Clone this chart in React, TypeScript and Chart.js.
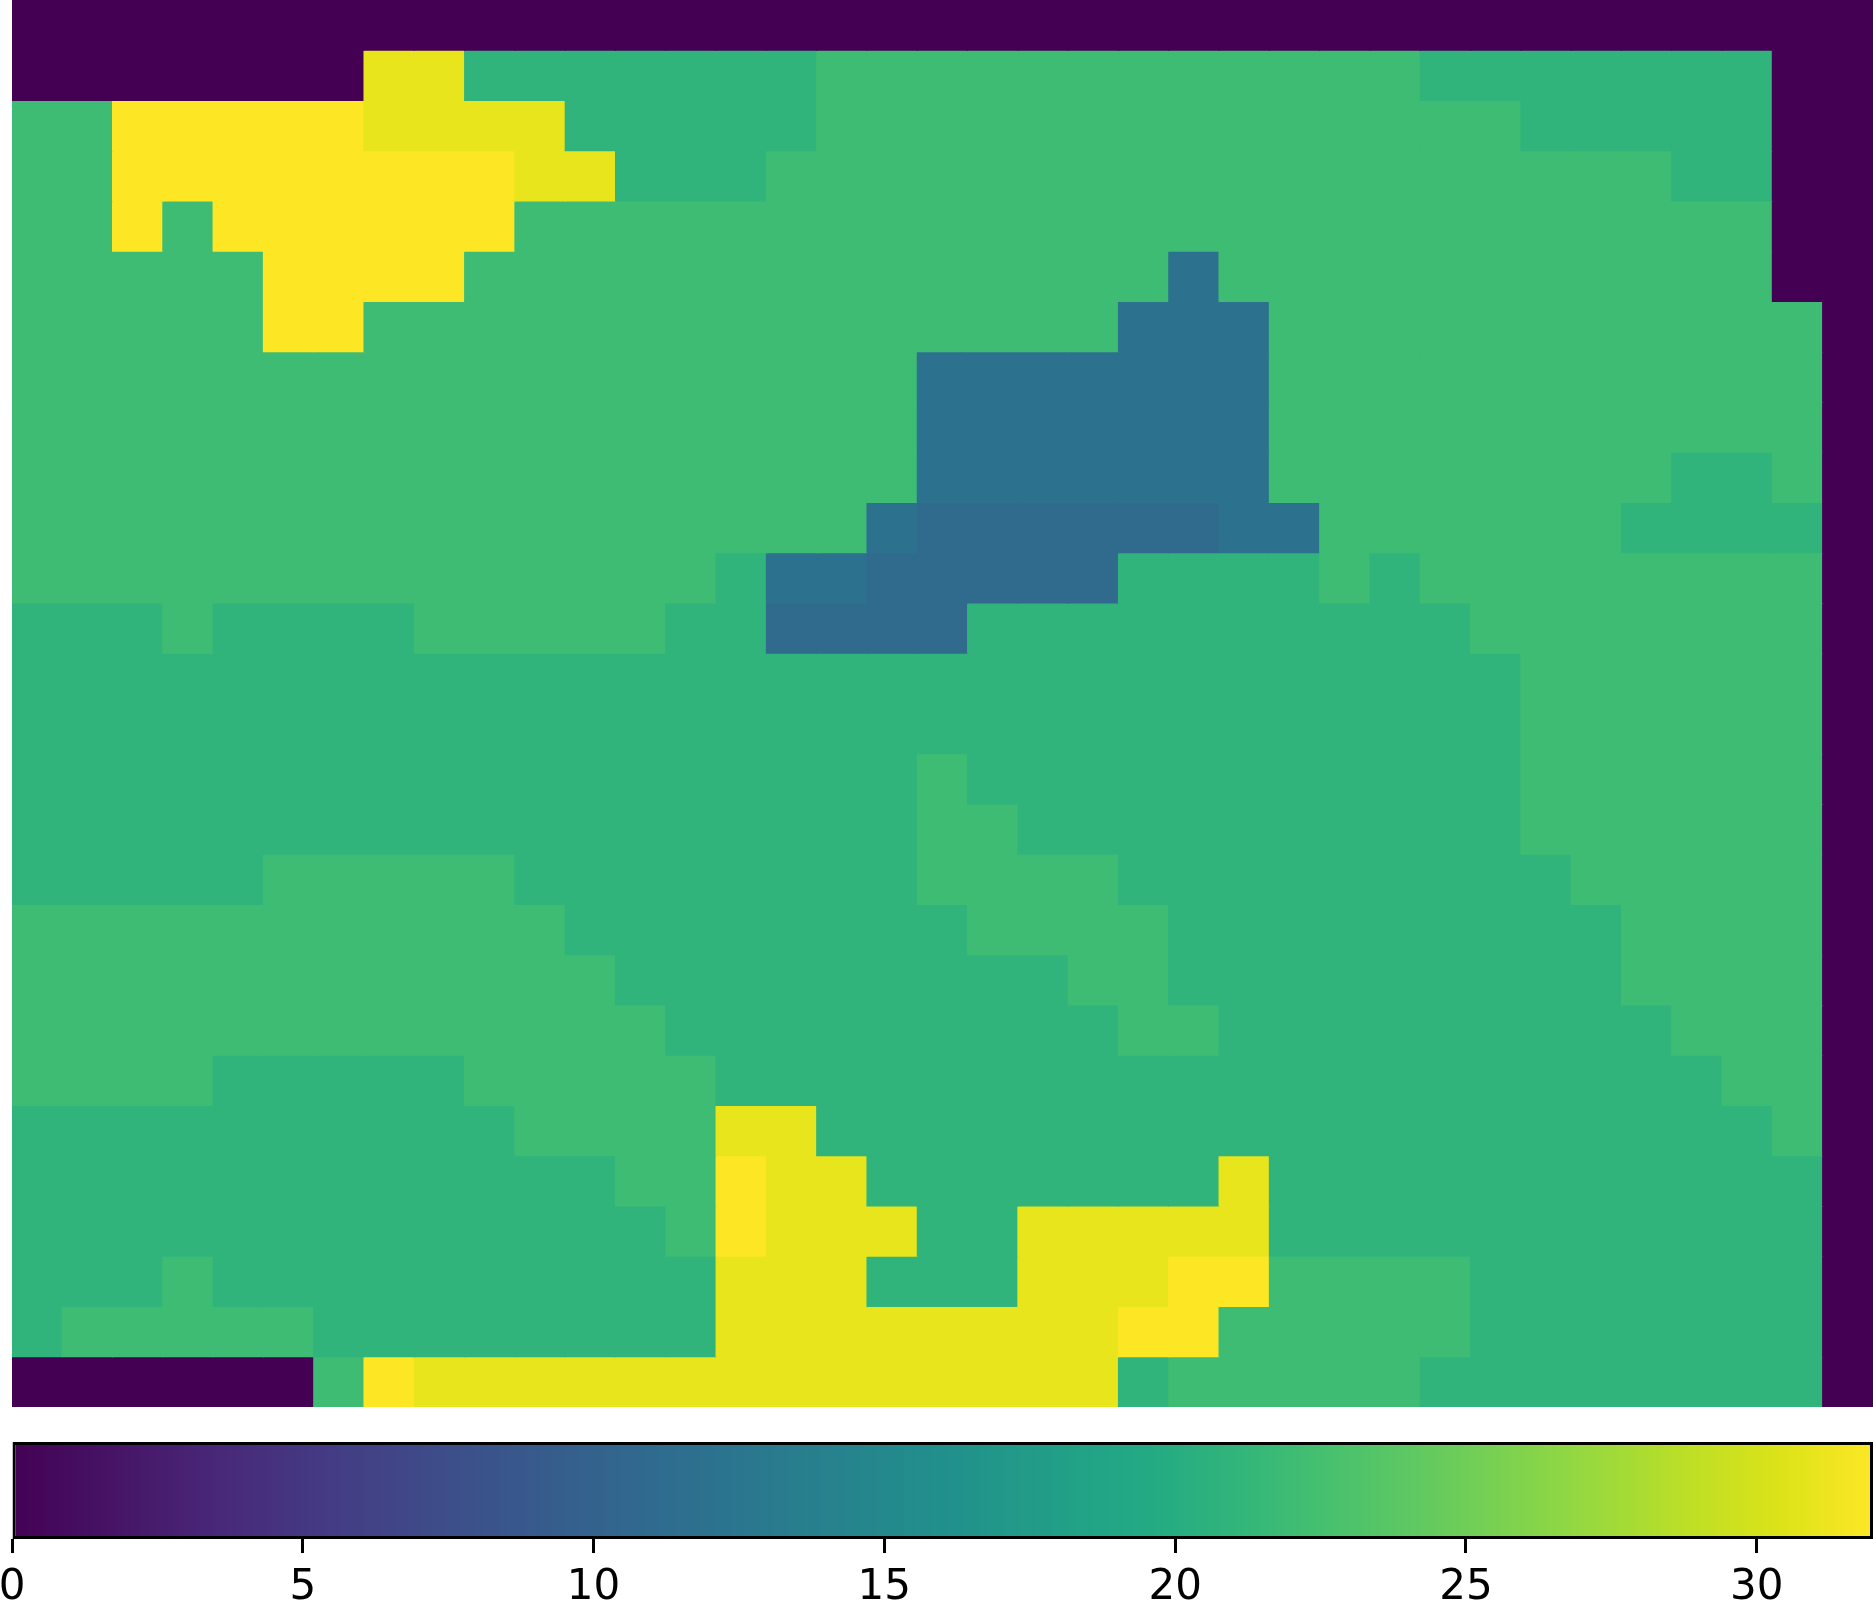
import React, { useEffect, useRef } from "react";
import { Chart, registerables } from "chart.js";

Chart.register(...registerables);

// ---- data -------------------------------------------------------------
const columnLabels: string[] = [
  "0", "1", "2", "3", "4", "5", "6", "7", "8", "9",
  "10", "11", "12", "13", "14", "15", "16", "17", "18", "19",
  "20", "21", "22", "23", "24", "25", "26", "27", "28", "29",
  "30", "31", "32", "33", "34", "35", "36",
];

// one array per row, top row first
const gridRows: number[][] = [
  [0,0,0,0,0,0,0,0,0,0, 0,0,0,0,0,0,0,0,0,0, 0,0,0,0,0,0,0,0,0,0, 0,0,0,0,0,0,0],
  [0,0,0,0,0,0,0,31,31,21, 21,21,21,21,21,21,22,22,22,22, 22,22,22,22,22,22,22,22,21,21, 21,21,21,21,21,0,0],
  [22,22,32,32,32,32,32,31,31,31, 31,21,21,21,21,21,22,22,22,22, 22,22,22,22,22,22,22,22,22,22, 21,21,21,21,21,0,0],
  [22,22,32,32,32,32,32,32,32,32, 31,31,21,21,21,22,22,22,22,22, 22,22,22,22,22,22,22,22,22,22, 22,22,22,21,21,0,0],
  [22,22,32,22,32,32,32,32,32,32, 22,22,22,22,22,22,22,22,22,22, 22,22,22,22,22,22,22,22,22,22, 22,22,22,22,22,0,0],
  [22,22,22,22,22,32,32,32,32,22, 22,22,22,22,22,22,22,22,22,22, 22,22,22,12,22,22,22,22,22,22, 22,22,22,22,22,0,0],
  [22,22,22,22,22,32,32,22,22,22, 22,22,22,22,22,22,22,22,22,22, 22,22,12,12,12,22,22,22,22,22, 22,22,22,22,22,22,0],
  [22,22,22,22,22,22,22,22,22,22, 22,22,22,22,22,22,22,22,12,12, 12,12,12,12,12,22,22,22,22,22, 22,22,22,22,22,22,0],
  [22,22,22,22,22,22,22,22,22,22, 22,22,22,22,22,22,22,22,12,12, 12,12,12,12,12,22,22,22,22,22, 22,22,22,22,22,22,0],
  [22,22,22,22,22,22,22,22,22,22, 22,22,22,22,22,22,22,22,12,12, 12,12,12,12,12,22,22,22,22,22, 22,22,22,21,21,22,0],
  [22,22,22,22,22,22,22,22,22,22, 22,22,22,22,22,22,22,12,11,11, 11,11,11,11,12,12,22,22,22,22, 22,22,21,21,21,21,0],
  [22,22,22,22,22,22,22,22,22,22, 22,22,22,22,21,12,12,11,11,11, 11,11,21,21,21,21,22,21,22,22, 22,22,22,22,22,22,0],
  [21,21,21,22,21,21,21,21,22,22, 22,22,22,21,21,11,11,11,11,21, 21,21,21,21,21,21,21,21,21,22, 22,22,22,22,22,22,0],
  [21,21,21,21,21,21,21,21,21,21, 21,21,21,21,21,21,21,21,21,21, 21,21,21,21,21,21,21,21,21,21, 22,22,22,22,22,22,0],
  [21,21,21,21,21,21,21,21,21,21, 21,21,21,21,21,21,21,21,21,21, 21,21,21,21,21,21,21,21,21,21, 22,22,22,22,22,22,0],
  [21,21,21,21,21,21,21,21,21,21, 21,21,21,21,21,21,21,21,22,21, 21,21,21,21,21,21,21,21,21,21, 22,22,22,22,22,22,0],
  [21,21,21,21,21,21,21,21,21,21, 21,21,21,21,21,21,21,21,22,22, 21,21,21,21,21,21,21,21,21,21, 22,22,22,22,22,22,0],
  [21,21,21,21,21,22,22,22,22,22, 21,21,21,21,21,21,21,21,22,22, 22,22,21,21,21,21,21,21,21,21, 21,22,22,22,22,22,0],
  [22,22,22,22,22,22,22,22,22,22, 22,21,21,21,21,21,21,21,21,22, 22,22,22,21,21,21,21,21,21,21, 21,21,22,22,22,22,0],
  [22,22,22,22,22,22,22,22,22,22, 22,22,21,21,21,21,21,21,21,21, 21,22,22,21,21,21,21,21,21,21, 21,21,22,22,22,22,0],
  [22,22,22,22,22,22,22,22,22,22, 22,22,22,21,21,21,21,21,21,21, 21,21,22,22,21,21,21,21,21,21, 21,21,21,22,22,22,0],
  [22,22,22,22,21,21,21,21,21,22, 22,22,22,22,21,21,21,21,21,21, 21,21,21,21,21,21,21,21,21,21, 21,21,21,21,22,22,0],
  [21,21,21,21,21,21,21,21,21,21, 22,22,22,22,31,31,21,21,21,21, 21,21,21,21,21,21,21,21,21,21, 21,21,21,21,21,22,0],
  [21,21,21,21,21,21,21,21,21,21, 21,21,22,22,32,31,31,21,21,21, 21,21,21,21,31,21,21,21,21,21, 21,21,21,21,21,21,0],
  [21,21,21,21,21,21,21,21,21,21, 21,21,21,22,32,31,31,31,21,21, 31,31,31,31,31,21,21,21,21,21, 21,21,21,21,21,21,0],
  [21,21,21,22,21,21,21,21,21,21, 21,21,21,21,31,31,31,21,21,21, 31,31,31,32,32,22,22,22,22,21, 21,21,21,21,21,21,0],
  [21,22,22,22,22,22,21,21,21,21, 21,21,21,21,31,31,31,31,31,31, 31,31,32,32,22,22,22,22,22,21, 21,21,21,21,21,21,0],
  [0,0,0,0,0,0,22,32,31,31, 31,31,31,31,31,31,31,31,31,31, 31,31,21,22,22,22,22,22,21,21, 21,21,21,21,21,21,0],
];

const colorMin = 0;
const colorMax = 32;
const colorbarTicks: number[] = [0, 5, 10, 15, 20, 25, 30];

// viridis colormap stops (position, colour)
const viridisPos: number[] = [0, 0.1, 0.125, 0.1667, 0.2, 0.25, 0.3, 0.3333, 0.375, 0.4, 0.5, 0.6, 0.625, 0.6667, 0.7, 0.75, 0.8, 0.8333, 0.875, 0.9, 0.95, 1];
const viridisHex: string[] = [
  "#440154", "#482475", "#472d7b", "#443a83", "#414487", "#3b528b", "#355f8d", "#31688e",
  "#2c728e", "#2a788e", "#21908c", "#22a884", "#27ad81", "#35b779", "#44bf70", "#5dc863",
  "#7ad151", "#8fd744", "#aadc32", "#bddf26", "#dce318", "#fde725",
];

function hexToRgb(h: string): number[] {
  return [parseInt(h.slice(1, 3), 16), parseInt(h.slice(3, 5), 16), parseInt(h.slice(5, 7), 16)];
}

function viridis(t: number): string {
  const x = Math.max(0, Math.min(1, t));
  for (let i = 0; i < viridisPos.length - 1; i++) {
    const a = viridisPos[i];
    const b = viridisPos[i + 1];
    if (x >= a && x <= b) {
      const f = b === a ? 0 : (x - a) / (b - a);
      const ca = hexToRgb(viridisHex[i]);
      const cb = hexToRgb(viridisHex[i + 1]);
      const c = ca.map((v, k) => Math.round(v + (cb[k] - v) * f));
      return `rgb(${c[0]},${c[1]},${c[2]})`;
    }
  }
  return viridisHex[viridisHex.length - 1];
}

const norm = (v: number) => (v - colorMin) / (colorMax - colorMin);

// ---- component --------------------------------------------------------
export default function App() {
  const heatRef = useRef<HTMLCanvasElement | null>(null);
  const barRef = useRef<HTMLCanvasElement | null>(null);

  useEffect(() => {
    if (!heatRef.current || !barRef.current) return;
    const nRows = gridRows.length;

    const heat = new Chart(heatRef.current, {
      type: "bar",
      data: {
        labels: columnLabels,
        datasets: gridRows.map((row, r) => ({
          label: `row ${r}`,
          data: row.map(() => [r, r + 1]),
          backgroundColor: row.map((v) => viridis(norm(v))),
          borderWidth: 0,
          barPercentage: 1,
          categoryPercentage: 1,
          inflateAmount: 0.6,
          grouped: false,
        })) as any,
      },
      options: {
        animation: false,
        responsive: false,
        maintainAspectRatio: false,
        devicePixelRatio: 1,
        layout: { padding: 0 },
        plugins: { legend: { display: false }, tooltip: { enabled: false } },
        scales: {
          x: { display: false },
          y: { display: false, min: 0, max: nRows, reverse: true },
        },
      } as any,
    });

    const cbar = new Chart(barRef.current, {
      type: "bar",
      data: {
        labels: ["colorbar"],
        datasets: [
          {
            label: "colorbar",
            data: [[colorMin, colorMax]] as any,
            backgroundColor: (c: any) => {
              const chart = c.chart;
              const area = chart.chartArea;
              if (!area) return "transparent";
              const xs = chart.scales.x;
              const g = chart.ctx.createLinearGradient(
                xs.getPixelForValue(colorMin), 0, xs.getPixelForValue(colorMax), 0
              );
              viridisPos.forEach((p, i) => g.addColorStop(p, viridisHex[i]));
              return g;
            },
            borderColor: "#000000",
            borderWidth: 3,
            borderSkipped: false,
            barPercentage: 1,
            categoryPercentage: 1,
            inflateAmount: 0,
          } as any,
        ],
      },
      options: {
        indexAxis: "y",
        animation: false,
        responsive: false,
        maintainAspectRatio: false,
        devicePixelRatio: 1,
        layout: { padding: { left: 12, right: 0, top: 2, bottom: 0 } },
        plugins: { legend: { display: false }, tooltip: { enabled: false } },
        scales: {
          x: {
            type: "linear",
            position: "bottom",
            min: colorMin,
            max: colorMax,
            afterBuildTicks: (s: any) => {
              s.ticks = colorbarTicks.map((v) => ({ value: v }));
            },
            afterFit: (s: any) => {
              s.height = 69;
              s.paddingLeft = 0;
              s.paddingRight = 0;
            },
            ticks: {
              autoSkip: false,
              maxRotation: 0,
              padding: 10,
              color: "#000000",
              font: { family: "'DejaVu Sans', sans-serif", size: 42 },
              callback: (v: any) => String(v),
            },
            grid: {
              display: true,
              drawOnChartArea: false,
              drawTicks: true,
              tickLength: 14,
              tickWidth: 3,
              tickColor: "#000000",
            },
            border: { display: false },
          },
          y: { display: false },
        },
      } as any,
    });

    return () => {
      heat.destroy();
      cbar.destroy();
    };
  }, []);

  return (
    <div
      style={{
        position: "absolute",
        left: 0,
        top: 0,
        width: 1873,
        height: 1608,
        background: "#ffffff",
        overflow: "hidden",
      }}
    >
      <canvas
        ref={heatRef}
        width={1861}
        height={1407}
        style={{ position: "absolute", left: 12, top: 0, width: 1861, height: 1407 }}
      />
      <canvas
        ref={barRef}
        width={1873}
        height={168}
        style={{ position: "absolute", left: 0, top: 1440, width: 1873, height: 168 }}
      />
    </div>
  );
}
